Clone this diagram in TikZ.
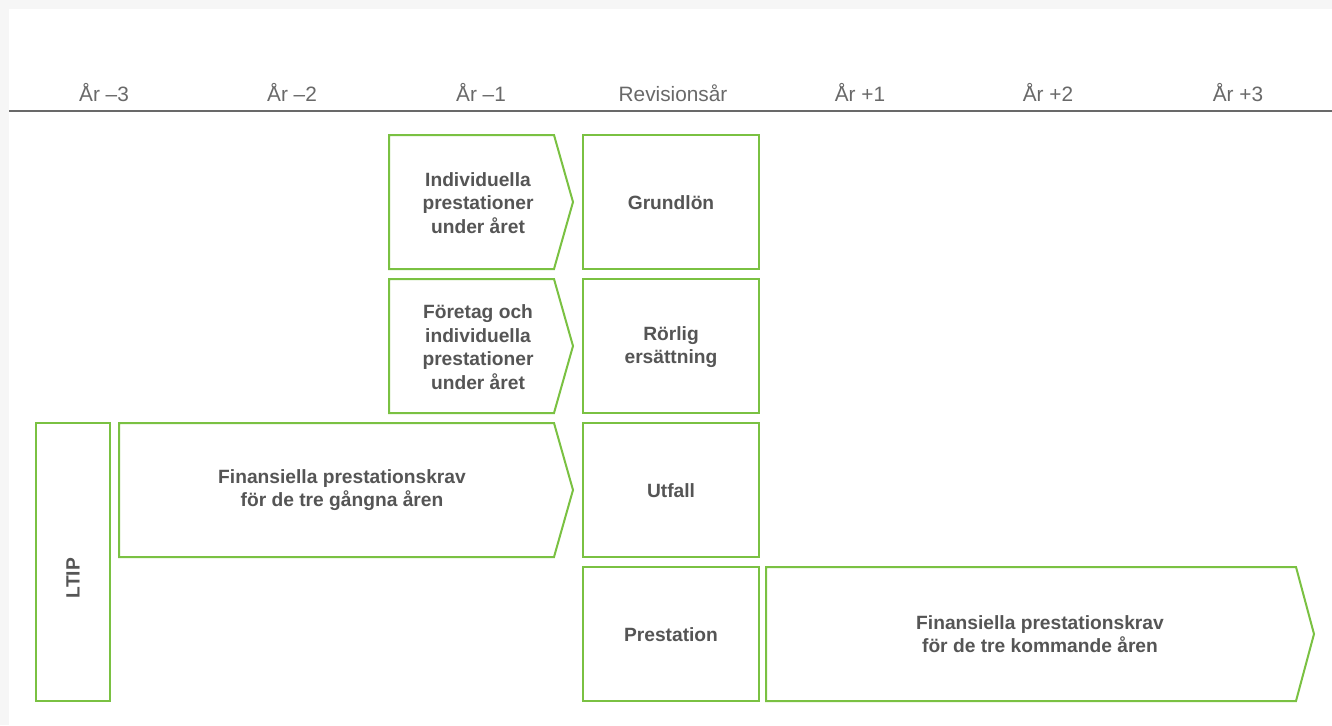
\documentclass[tikz,border=0pt]{standalone}
\usepackage{fontspec}
\setmainfont{Liberation Sans}
\definecolor{lgreen}{RGB}{122,193,66}
\definecolor{hdrgray}{RGB}{105,105,105}
\definecolor{txtgray}{RGB}{85,85,85}
\definecolor{edgegray}{RGB}{246,246,246}
\tikzset{
  boxline/.style={draw=lgreen, line width=1.5pt, line join=miter},
  boxtext/.style={text=txtgray, align=center, font=\bfseries\fontsize{14.4}{17.6}\selectfont, inner sep=0pt},
  yeartext/.style={text=hdrgray, anchor=base, font=\fontsize{15.6}{18}\selectfont, inner sep=0pt},
  hdrline/.style={draw=hdrgray, line width=2.2pt}
}
\begin{document}
\begin{tikzpicture}[x=0.75pt,y=-0.75pt]
\useasboundingbox (0,0) rectangle (1332,725);
\fill[edgegray] (0,0) rectangle (1332,725);
\fill[white] (9,9) rectangle (1332,725);

% header
\foreach \a/\b in {9/197.7,198.3/386.7,387.3/575.7,576.3/764.7,765.3/953.7,954.3/1142.7,1143.3/1332}
  \draw[hdrline] (\a,111) -- (\b,111);
\node[yeartext] (y1) at (104,101) {År –3};
\node[yeartext] (y2) at (292,101) {År –2};
\node[yeartext] (y3) at (481,101) {År –1};
\node[yeartext] (y4) at (673,101) {Revisionsår};
\node[yeartext] (y5) at (860,101) {År +1};
\node[yeartext] (y6) at (1048,101) {År +2};
\node[yeartext] (y7) at (1238,101) {År +3};

% row 1
\draw[boxline] (389,135) -- (554,135) -- (573,202) -- (554,269) -- (389,269) -- cycle;
\node[boxtext] (a1) at (478,203) {Individuella\\prestationer\\under året};
\draw[boxline] (583,135) rectangle (759,269);
\node[boxtext] (b1) at (671,203) {Grundlön};

% row 2
\draw[boxline] (389,279) -- (554,279) -- (573,346) -- (554,413) -- (389,413) -- cycle;
\node[boxtext] (a2) at (478,347) {Företag och\\individuella\\prestationer\\under året};
\draw[boxline] (583,279) rectangle (759,413);
\node[boxtext] (b2) at (671,347) {Rörlig\\ersättning};

% row 3
\draw[boxline] (36,423) rectangle (110,701);
\node[boxtext, rotate=90] (ltip) at (73,578) {LTIP};
\draw[boxline] (119,423) -- (554,423) -- (573,490) -- (554,557) -- (119,557) -- cycle;
\node[boxtext] (a3) at (342,490) {Finansiella prestationskrav\\för de tre gångna åren};
\draw[boxline] (583,423) rectangle (759,557);
\node[boxtext] (b3) at (671,491) {Utfall};

% row 4
\draw[boxline] (583,567) rectangle (759,701);
\node[boxtext] (b4) at (671,635) {Prestation};
\draw[boxline] (766,567) -- (1296,567) -- (1314,634) -- (1296,701) -- (766,701) -- cycle;
\node[boxtext] (a4) at (1040,634) {Finansiella prestationskrav\\för de tre kommande åren};
\end{tikzpicture}
\end{document}
